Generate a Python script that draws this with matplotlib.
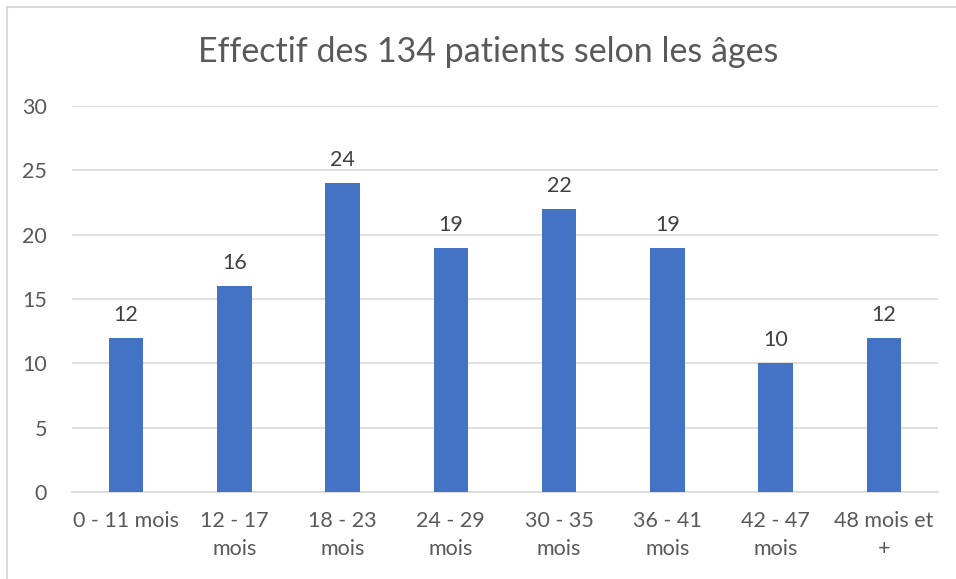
import matplotlib
matplotlib.use("Agg")
import matplotlib.pyplot as plt
from matplotlib.patches import Rectangle

categories = ["0 - 11 mois", "12 - 17\nmois", "18 - 23\nmois", "24 - 29\nmois",
              "30 - 35\nmois", "36 - 41\nmois", "42 - 47\nmois", "48 mois et\n+"]
values = [12, 16, 24, 19, 22, 19, 10, 12]
yticks = [0, 5, 10, 15, 20, 25, 30]
title = "Effectif des 134 patients selon les âges"

plt.rcParams['font.family'] = ['Lato', 'DejaVu Sans']
txt = "#595959"

fig = plt.figure(figsize=(9.56, 5.79), dpi=100)
W, H = 956, 579
fig.patches.append(Rectangle((7 / W, -0.1), 1.2, 1 - 7 / H + 0.1, transform=fig.transFigure,
                             fill=False, edgecolor="#D9D9D9", linewidth=1.5))
ax = fig.add_axes([72 / W, 1 - 492 / H, (938 - 72) / W, (492 - 106) / H])

x = range(len(values))
bars = ax.bar(x, values, width=0.32, color="#4472C4", zorder=3)
for xi, v in zip(x, values):
    ax.text(xi, v + 1.0, str(v), ha="center", va="bottom", fontsize=15.5, color="#404040")

ax.set_xlim(-0.5, len(values) - 0.5)
ax.set_ylim(0, 30)
ax.set_yticks(yticks)
ax.set_yticklabels([str(t) for t in yticks], fontsize=15.5, color=txt)
ax.set_xticks(list(x))
ax.set_xticklabels(categories, fontsize=15.5, color=txt, linespacing=1.45)
ax.tick_params(axis="both", length=0)
ax.tick_params(axis="y", pad=18)
ax.tick_params(axis="x", pad=14)
ax.yaxis.grid(True, color="#D9D9D9", linewidth=1.2, zorder=0)
for s in ["top", "right", "left"]:
    ax.spines[s].set_visible(False)
ax.spines["bottom"].set_color("#D9D9D9")
ax.spines["bottom"].set_linewidth(1.2)

fig.text((199 + 777) / 2 / W, 1 - 52 / H, title, ha="center", va="center", fontsize=24.5, color=txt)

fig.savefig("out.png", dpi=100)
